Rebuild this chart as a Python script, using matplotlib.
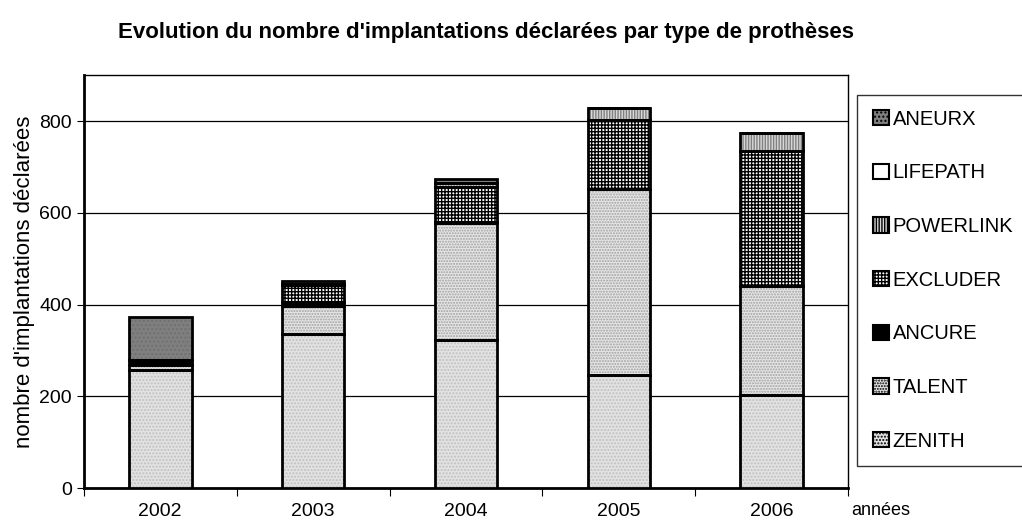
import numpy as np
import matplotlib.pyplot as plt

years = ['2002', '2003', '2004', '2005', '2006']
zenith = [258, 336, 323, 247, 203]
talent = [10, 62, 254, 406, 238]
ancure = [12, 8, 4, 0, 0]
excluder = [0, 36, 75, 150, 294]
powerlink = [0, 4, 8, 25, 40]
lifepath = [0, 0, 0, 0, 0]
aneurx = [92, 6, 10, 0, 0]

series = [
    ('ZENITH', zenith, '#e2e2e2', '#c0c0c0', '.....'),
    ('TALENT', talent, '#e6e6e6', '#a0a0a0', '......'),
    ('ANCURE', ancure, 'black', 'black', None),
    ('EXCLUDER', excluder, 'white', 'black', '+++++'),
    ('POWERLINK', powerlink, '#d8d8d8', '#808080', '||||||'),
    ('LIFEPATH', lifepath, 'white', 'white', None),
    ('ANEURX', aneurx, '#7f7f7f', '#707070', '....'),
]

plt.rcParams['font.family'] = ['Liberation Sans', 'DejaVu Sans']
fig = plt.figure(figsize=(10.22, 5.26), dpi=100)
ax = fig.add_axes([0.082, 0.072, 0.748, 0.785])

x = np.arange(len(years))
w = 0.41
bottom = np.zeros(len(years))
for name, vals, fc, hc, hatch in series:
    vals = np.array(vals, dtype=float)
    # fill with pattern, then black outline on top
    ax.bar(x, vals, w, bottom=bottom, color=fc, edgecolor=hc, hatch=hatch,
           linewidth=0, zorder=3)
    ax.bar(x, vals, w, bottom=bottom, fill=False, edgecolor='black',
           linewidth=2, zorder=4)
    bottom += vals

ax.set_xlim(-0.5, 4.5)
ax.set_ylim(0, 900)
ax.set_yticks([0, 200, 400, 600, 800])
ax.tick_params(axis='y', labelsize=14, direction='out', length=5)
ax.set_xticks(np.arange(-0.5, 5, 1))
ax.set_xticklabels([])
ax.set_xticks(x, minor=True)
ax.set_xticklabels(years, minor=True, fontsize=14)
ax.tick_params(axis='x', which='major', direction='out', length=6)
ax.tick_params(axis='x', which='minor', length=0, pad=11)
ax.yaxis.grid(True, color='black', linewidth=0.9, zorder=0)
ax.set_axisbelow(True)
for s in ['left', 'bottom']:
    ax.spines[s].set_linewidth(2)
for s in ['top', 'right']:
    ax.spines[s].set_linewidth(1)

ax.set_ylabel("nombre d'implantations déclarées", fontsize=16, labelpad=3)
fig.text(0.833, 0.02, 'années', fontsize=13, ha='left')
fig.text(0.476, 0.927, "Evolution du nombre d'implantations déclarées par type de prothèses",
         fontsize=16, fontweight='bold', ha='center')

proxies = []
names = []
for name, vals, fc, hc, hatch in series[::-1]:
    proxies.append(plt.Rectangle((0, 0), 1, 1, facecolor=fc, hatch=hatch,
                                 edgecolor='black', lw=1.5))
    names.append(name)
leg = fig.legend(proxies, names, loc='upper left', bbox_to_anchor=(0.839, 0.82),
                 fontsize=14.5, frameon=True, fancybox=False, edgecolor='black',
                 handlelength=0.8, handleheight=0.8, handletextpad=0.2,
                 labelspacing=1.72, borderpad=0.75, borderaxespad=0)
leg.get_frame().set_linewidth(1)

fig.savefig('out.png', dpi=100)
